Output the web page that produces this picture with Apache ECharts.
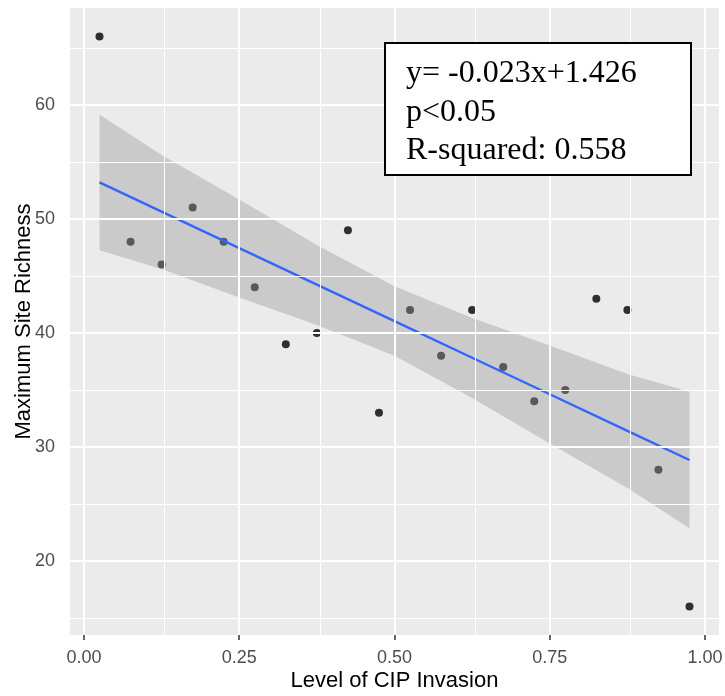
<!DOCTYPE html>
<html>
<head>
<meta charset="utf-8">
<script src="https://cdn.jsdelivr.net/npm/echarts@6/dist/echarts.min.js"></script>
<style>html,body{margin:0;padding:0;background:#fff}#c{width:725px;height:696px}</style>
</head>
<body>
<div id="c"></div>
<script>
// Data
const invasion = [0.025,0.075,0.125,0.175,0.225,0.275,0.325,0.375,0.425,0.475,0.525,0.575,0.625,0.675,0.725,0.775,0.825,0.875,0.925,0.975];
const richness = [66,48,46,51,48,44,39,40,49,33,42,38,42,37,34,35,43,42,28,16];
// Fitted line and confidence band
const fitX = [0.025,0.125,0.25,0.375,0.5,0.625,0.75,0.875,0.975];
const fitY = [53.2,50.64,47.43,44.23,41.03,37.82,34.62,31.41,28.85];
const bandLow = [47.25,45.6,43.1,40.7,38.0,34.3,30.3,26.4,22.87];
const bandHigh = [59.15,55.6,51.7,47.7,44.1,41.3,38.9,36.4,34.84];
// Tick labels
const xTicks = [0, 0.25, 0.5, 0.75, 1];
const yTicks = [20, 30, 40, 50, 60];
const xMinor = [0.125, 0.375, 0.625, 0.875];
const yMinor = [15, 25, 35, 45, 55, 65];
const annotation = ['y= -0.023x+1.426', 'p<0.05', 'R-squared: 0.558'];

const chart = echarts.init(document.getElementById('c'));
const points = invasion.map((x, i) => [x, richness[i]]);
const fitData = fitX.map((x, i) => [x, fitY[i]]);
const bandData = fitX.map((x, i) => [x, bandLow[i], bandHigh[i]]);

const gridLines = [];
xTicks.forEach(v => gridLines.push({xAxis: v, lineStyle: {width: 2}}));
xMinor.forEach(v => gridLines.push({xAxis: v, lineStyle: {width: 1}}));
yTicks.forEach(v => gridLines.push({yAxis: v, lineStyle: {width: 2}}));
yMinor.forEach(v => gridLines.push({yAxis: v, lineStyle: {width: 1}}));

const sans = 'Liberation Sans, Arial, sans-serif';
const serif = 'Liberation Serif, Times New Roman, serif';

chart.setOption({
  animation: false,
  backgroundColor: '#fff',
  grid: {left: 70, top: 8, right: 6, bottom: 61, show: true, backgroundColor: '#ebebeb', borderWidth: 0,
    containLabel: false, outerBoundsMode: 'none'},
  xAxis: {
    type: 'value', min: -0.0225, max: 1.0225,
    name: 'Level of CIP Invasion', nameLocation: 'middle', nameGap: 35, nameMoveOverlap: false,
    nameTextStyle: {fontFamily: sans, fontSize: 22, color: '#000'},
    axisLine: {show: false},
    axisTick: {show: true, length: 5, customValues: xTicks, lineStyle: {color: '#333', width: 1.5}},
    axisLabel: {customValues: xTicks, margin: 14, fontFamily: sans, fontSize: 18, color: '#4d4d4d',
      formatter: v => Number(v).toFixed(2)},
    splitLine: {show: false}
  },
  yAxis: {
    type: 'value', min: 13.5, max: 68.5,
    name: 'Maximum Site Richness', nameLocation: 'middle', nameGap: 35, nameMoveOverlap: false,
    nameTextStyle: {fontFamily: sans, fontSize: 22, color: '#000'},
    axisLine: {show: false},
    axisTick: {show: true, length: 5, customValues: yTicks, lineStyle: {color: '#333', width: 1.5}},
    axisLabel: {customValues: yTicks, margin: 15, fontFamily: sans, fontSize: 18, color: '#4d4d4d'},
    splitLine: {show: false}
  },
  series: [
    {
      type: 'line', z: 1, data: [[0.5, 40]], symbol: 'none', lineStyle: {opacity: 0}, silent: true,
      markLine: {silent: true, symbol: ['none', 'none'], label: {show: false},
        lineStyle: {color: '#ffffff', type: 'solid'}, data: gridLines, animation: false}
    },
    {
      type: 'scatter', z: 2, data: points, symbolSize: 8,
      itemStyle: {color: '#000'}
    },
    {
      type: 'custom', z: 3, data: bandData, silent: true,
      encode: {x: 0, y: [1, 2]},
      renderItem: function (params, api) {
        if (params.dataIndex !== 0) return null;
        const pts = [];
        for (let i = 0; i < bandData.length; i++) pts.push(api.coord([bandData[i][0], bandData[i][2]]));
        for (let i = bandData.length - 1; i >= 0; i--) pts.push(api.coord([bandData[i][0], bandData[i][1]]));
        return {type: 'polygon', shape: {points: pts}, style: {fill: 'rgba(153,153,153,0.4)'}};
      }
    },
    {
      type: 'line', z: 4, data: fitData, symbol: 'none', smooth: false,
      lineStyle: {color: '#3366FF', width: 2.4}
    }
  ],
  graphic: [
    {type: 'rect', z: 100, shape: {x: 385, y: 43, width: 306, height: 132},
      style: {fill: '#fff', stroke: '#000', lineWidth: 2}},
    {type: 'text', z: 101, x: 406, y: 74, style: {text: annotation[0], font: '32px ' + serif, fill: '#000', verticalAlign: 'middle'}},
    {type: 'text', z: 101, x: 406, y: 112.3, style: {text: annotation[1], font: '32px ' + serif, fill: '#000', verticalAlign: 'middle'}},
    {type: 'text', z: 101, x: 406, y: 150.6, style: {text: annotation[2], font: '32px ' + serif, fill: '#000', verticalAlign: 'middle'}}
  ]
});
</script>
</body>
</html>
